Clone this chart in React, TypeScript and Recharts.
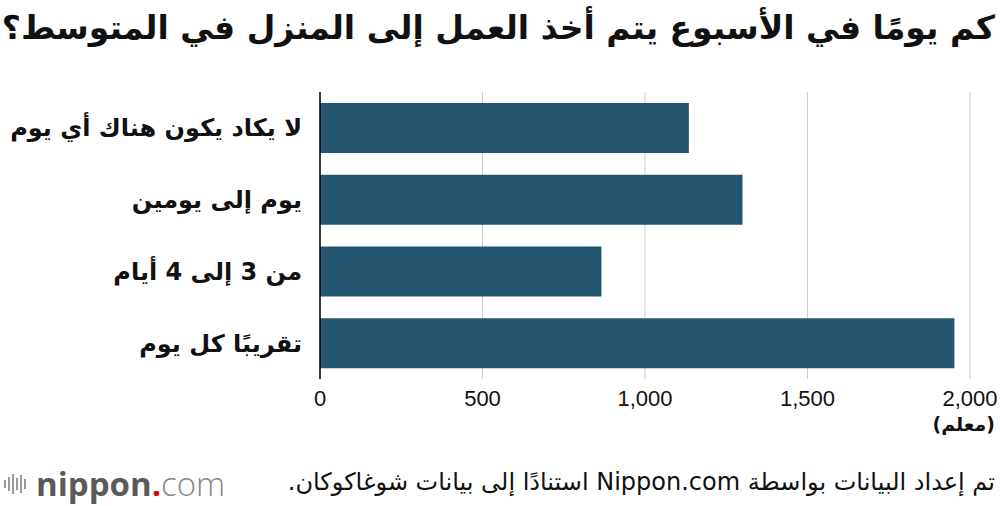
import React from "react";
import { BarChart, Bar, XAxis, YAxis, CartesianGrid } from "recharts";

const categories = [
  "لا يكاد يكون هناك أي يوم",
  "يوم إلى يومين",
  "من 3 إلى 4 أيام",
  "تقريبًا كل يوم",
];
const teachers = [1135, 1300, 866, 1952];
const xTicks = [0, 500, 1000, 1500, 2000];

const title = "كم يومًا في الأسبوع يتم أخذ العمل إلى المنزل في المتوسط؟";
const unitLabel = "(معلم)";
const sourceText = "تم إعداد البيانات بواسطة Nippon.com استنادًا إلى بيانات شوغاكوكان.";
const logoBars = [8, 14, 20, 12, 18, 10];

const data = categories.map((c, i) => ({ name: c, value: teachers[i] }));

const arabicFont = "'DejaVu Sans', 'Noto Sans', sans-serif";

export default function App() {
  return (
    <div
      style={{
        position: "absolute",
        left: 0,
        top: 0,
        width: 1000,
        height: 506,
        background: "#fff",
        overflow: "hidden",
      }}
    >
      <div
        dir="rtl"
        style={{
          position: "absolute",
          right: 5,
          top: 6,
          fontFamily: arabicFont,
          fontWeight: "bold",
          fontSize: 33,
          color: "#111",
          whiteSpace: "nowrap",
          lineHeight: "44px",
        }}
      >
        {title}
      </div>
      <BarChart
        width={1000}
        height={506}
        data={data}
        layout="vertical"
        margin={{ top: 92, right: 30, bottom: 97, left: 0 }}
      >
        <CartesianGrid horizontal={false} vertical={true} stroke="#cccccc" />
        <XAxis
          type="number"
          domain={[0, 2000]}
          ticks={xTicks}
          tickFormatter={(v: number) => v.toLocaleString("en-US")}
          axisLine={false}
          tickLine={false}
          tickMargin={5}
          height={30}
          tick={{ fill: "#111", fontSize: 22, fontFamily: "'Liberation Sans', Arial, sans-serif" }}
        />
        <YAxis
          type="category"
          dataKey="name"
          width={320}
          axisLine={{ stroke: "#000", strokeWidth: 1.5 }}
          tickLine={false}
          tickMargin={12}
          tick={{ fill: "#111", fontSize: 24, fontWeight: "bold", fontFamily: arabicFont }}
        />
        <Bar dataKey="value" fill="#245672" barSize={50} isAnimationActive={false} />
      </BarChart>
      <div
        dir="rtl"
        style={{
          position: "absolute",
          right: 5,
          top: 413,
          fontFamily: arabicFont,
          fontWeight: "bold",
          fontSize: 19,
          color: "#111",
          whiteSpace: "nowrap",
        }}
      >
        {unitLabel}
      </div>
      <div
        style={{
          position: "absolute",
          left: 4,
          top: 466,
          display: "flex",
          alignItems: "center",
          height: 36,
        }}
      >
        <div style={{ display: "flex", alignItems: "center", gap: 2, marginRight: 10 }}>
          {logoBars.map((h, i) => (
            <div key={i} style={{ width: 2, height: h, background: "#999" }} />
          ))}
        </div>
        <span
          style={{
            fontFamily: "'Open Sans', sans-serif",
            fontSize: 33,
            lineHeight: "36px",
            color: "#5a5a5a",
            fontWeight: "bold",
          }}
        >
          nippon
        </span>
        <span style={{ fontFamily: "'Open Sans', sans-serif", fontSize: 33, lineHeight: "36px", color: "#e60012", fontWeight: "bold" }}>
          .
        </span>
        <span style={{ fontFamily: "'Open Sans', sans-serif", fontSize: 33, lineHeight: "36px", color: "#888", fontWeight: 300 }}>
          com
        </span>
      </div>
      <div
        dir="rtl"
        style={{
          position: "absolute",
          right: 5,
          top: 468,
          fontFamily: arabicFont,
          fontSize: 24,
          color: "#111",
          whiteSpace: "nowrap",
        }}
      >
        {sourceText}
      </div>
    </div>
  );
}
